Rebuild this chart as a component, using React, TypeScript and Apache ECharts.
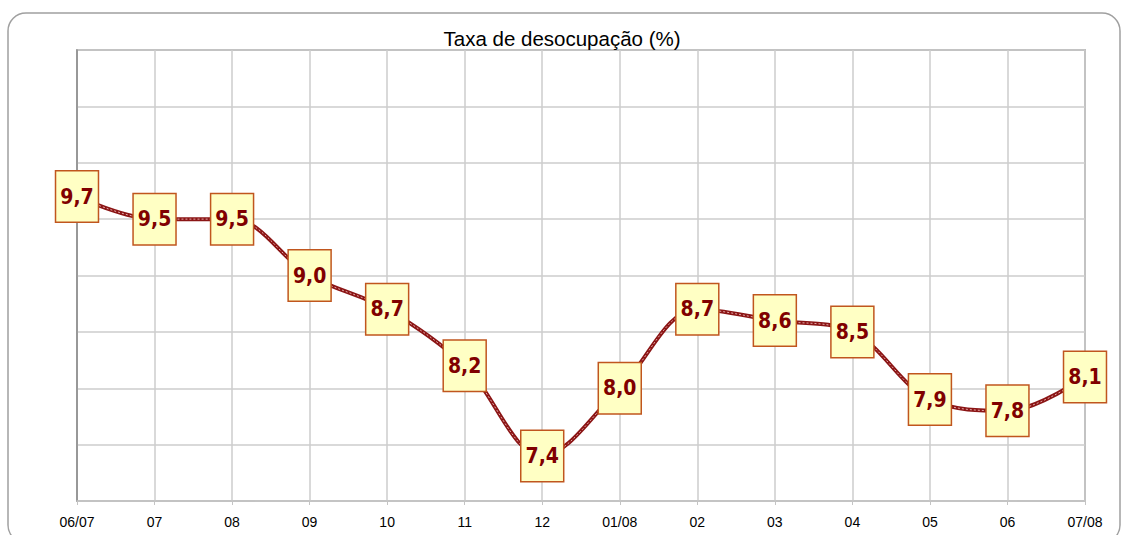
import React, { useEffect, useRef } from "react";
import * as echarts from "echarts";

const categories = ["06/07", "07", "08", "09", "10", "11", "12", "01/08", "02", "03", "04", "05", "06", "07/08"];
const values = [9.7, 9.5, 9.5, 9.0, 8.7, 8.2, 7.4, 8.0, 8.7, 8.6, 8.5, 7.9, 7.8, 8.1];
const titleText = "Taxa de desocupação (%)";

export default function App() {
  const ref = useRef<HTMLDivElement>(null);
  useEffect(() => {
    document.body.style.margin = "0";
    const chart = echarts.init(ref.current!, null, { renderer: "svg" });
    chart.setOption({
      animation: false,
      backgroundColor: "#ffffff",
      title: {
        text: titleText,
        left: 557,
        top: 23,
        textAlign: "center",
        textStyle: { fontSize: 20.5, fontWeight: "normal", color: "#000", fontFamily: "Liberation Sans, Arial, sans-serif" },
      },
      graphic: [
        {
          type: "rect",
          shape: { x: 8, y: 13, width: 1112, height: 530, r: 18 },
          style: { fill: "none", stroke: "#a0a0a0", lineWidth: 1.5 },
          silent: true,
          z: -10,
        },
      ],
      grid: { left: 77, right: 39, top: 50, bottom: 34, show: true, borderColor: "#8a8a8a", borderWidth: 1.5 },
      xAxis: {
        type: "category",
        data: categories,
        boundaryGap: false,
        axisLine: { lineStyle: { color: "#c4c4c4", width: 1.5 } },
        axisTick: { show: true, length: 4, lineStyle: { color: "#c4c4c4" } },
        axisLabel: { color: "#000", fontSize: 14, margin: 14, fontFamily: "Liberation Sans, Arial, sans-serif" },
        splitLine: { show: true, lineStyle: { color: "#cccccc", width: 1.5 } },
      },
      yAxis: {
        type: "value",
        min: 7,
        max: 11,
        interval: 0.5,
        axisLine: { show: true, lineStyle: { color: "#8a8a8a", width: 1.5 } },
        axisTick: { show: false },
        axisLabel: { show: false },
        splitLine: { show: true, lineStyle: { color: "#cccccc", width: 1.5 } },
      },
      series: [
        {
          type: "line",
          data: values,
          smooth: 0.35,
          symbol: "none",
          lineStyle: { color: "#8b1515", width: 4 },
          z: 2,
          silent: true,
        },
        {
          type: "line",
          data: values,
          smooth: 0.35,
          symbol: "circle",
          symbolSize: 0.1,
          itemStyle: { color: "#8b1515" },
          lineStyle: { color: "#e4a8a8", width: 1, type: [2, 2] },
          z: 3,
          label: {
            show: true,
            position: "inside",
            formatter: (p: any) => p.value.toFixed(1).replace(".", ","),
            backgroundColor: "#ffffc4",
            borderColor: "#c0561e",
            borderWidth: 1.5,
            padding: [12, 4, 12, 4],
            lineHeight: 26,
            color: "#800000",
            fontWeight: "bold",
            fontSize: 21,
            fontFamily: "DejaVu Sans Condensed, sans-serif",
          },
        },
      ],
    });
    return () => chart.dispose();
  }, []);
  return <div ref={ref} style={{ width: 1124, height: 535 }} />;
}
